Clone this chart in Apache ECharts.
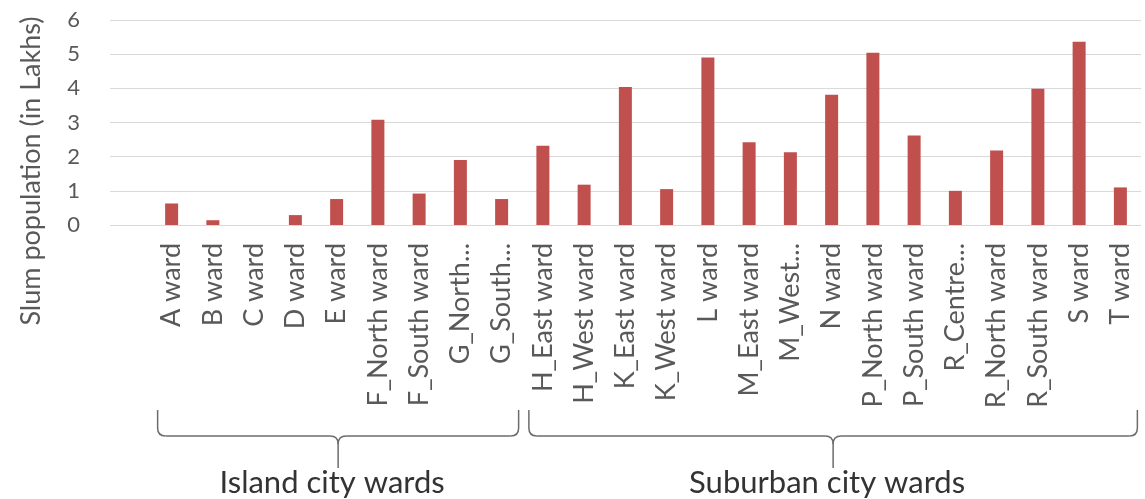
<!DOCTYPE html>
<html>
<head>
<meta charset="utf-8">
<script src="https://cdn.jsdelivr.net/npm/echarts@6/dist/echarts.min.js"></script>
<style>
  html, body { margin: 0; padding: 0; background: #fff; }
  #container { width: 1145px; height: 499px; }
</style>
</head>
<body>
<div id="container"></div>
<script>
// ward names, as the labels show them (Excel cut the long ones)
var wards = ['A ward', 'B ward', 'C ward', 'D ward', 'E ward', 'F_North ward', 'F_South ward', 'G_North...', 'G_South...',
    'H_East ward', 'H_West ward', 'K_East ward', 'K_West ward', 'L ward', 'M_East ward', 'M_West...', 'N ward',
    'P_North ward', 'P_South ward', 'R_Centre...', 'R_North ward', 'R_South ward', 'S ward', 'T ward'];
// slum population in lakhs
var slumPop = [0.63, 0.14, 0, 0.29, 0.76, 3.08, 0.92, 1.9, 0.76,
    2.32, 1.18, 4.04, 1.05, 4.9, 2.42, 2.13, 3.81,
    5.04, 2.62, 1.0, 2.18, 3.99, 5.36, 1.1];
var yTicks = [0, 1, 2, 3, 4, 5, 6];
var yTitle = 'Slum population (in Lakhs)';
// groups shown by the braces under the axis
var groups = [
    { name: 'Island city wards', from: 'A ward', to: 'G_South...' },
    { name: 'Suburban city wards', from: 'H_East ward', to: 'T ward' }
];

var font = 'Lato, "Open Sans", sans-serif';
var dom = document.getElementById('container');
var myChart = echarts.init(dom);

var option = {
    animation: false,
    grid: [
        { left: 110, right: 4, top: 20, bottom: 274 },   // gridlines only
        { left: 151, right: 4, top: 20, bottom: 274 }    // the bars
    ],
    xAxis: [
        { type: 'category', gridIndex: 0, show: false, data: [''] },
        {
            type: 'category',
            gridIndex: 1,
            data: wards,
            axisLine: { show: false },
            axisTick: { show: false },
            axisLabel: {
                interval: 0,
                rotate: 90,
                margin: 18,
                fontFamily: font,
                fontSize: 27,
                color: '#595959'
            }
        }
    ],
    yAxis: [
        {
            type: 'value',
            gridIndex: 0,
            min: yTicks[0],
            max: yTicks[yTicks.length - 1],
            interval: 1,
            axisLine: { show: false },
            axisTick: { show: false },
            axisLabel: { margin: 30, fontFamily: font, fontSize: 22, color: '#595959' },
            splitLine: { lineStyle: { color: '#d9d9d9', width: 1 } }
        },
        {
            type: 'value',
            gridIndex: 1,
            min: yTicks[0],
            max: yTicks[yTicks.length - 1],
            interval: 1,
            show: false,
            splitLine: { show: false }
        }
    ],
    series: [
        {
            name: 'Slum population',
            type: 'bar',
            xAxisIndex: 1,
            yAxisIndex: 1,
            barWidth: 13,
            itemStyle: { color: '#c0504d' },
            data: slumPop
        }
    ]
};
myChart.setOption(option);

// axis title and braces under the labels (braces follow the category positions)
var drawExtras = function () {
    var yTop = 410, yLine = 436, yTip = 468, r = 8;
    var line = { stroke: '#6b6b6b', lineWidth: 1.5, fill: null };
    var elems = [{
        type: 'text',
        x: 31,
        y: 171,
        rotation: Math.PI / 2,
        style: {
            text: yTitle,
            align: 'center',
            verticalAlign: 'middle',
            font: '27px ' + font,
            fill: '#595959'
        }
    }];
    groups.forEach(function (g) {
        var x0 = myChart.convertToPixel({ xAxisIndex: 1 }, g.from) - 14;
        var x1 = myChart.convertToPixel({ xAxisIndex: 1 }, g.to) + 17;
        var xm = (x0 + x1) / 2;
        var parts = [
            { type: 'line', shape: { x1: x0, y1: yTop, x2: x0, y2: yLine - r } },
            { type: 'bezierCurve', shape: { x1: x0, y1: yLine - r, x2: x0 + r, y2: yLine, cpx1: x0, cpy1: yLine } },
            { type: 'line', shape: { x1: x0 + r, y1: yLine, x2: xm - r, y2: yLine } },
            { type: 'bezierCurve', shape: { x1: xm - r, y1: yLine, x2: xm, y2: yLine + r, cpx1: xm, cpy1: yLine } },
            { type: 'bezierCurve', shape: { x1: xm + r, y1: yLine, x2: xm, y2: yLine + r, cpx1: xm, cpy1: yLine } },
            { type: 'line', shape: { x1: xm, y1: yLine + r, x2: xm, y2: yTip } },
            { type: 'line', shape: { x1: xm + r, y1: yLine, x2: x1 - r, y2: yLine } },
            { type: 'bezierCurve', shape: { x1: x1 - r, y1: yLine, x2: x1, y2: yLine - r, cpx1: x1, cpy1: yLine } },
            { type: 'line', shape: { x1: x1, y1: yLine - r, x2: x1, y2: yTop } }
        ];
        parts.forEach(function (p) {
            p.style = line;
            elems.push(p);
        });
        elems.push({
            type: 'text',
            x: xm - 6,
            y: 483,
            style: {
                text: g.name,
                align: 'center',
                verticalAlign: 'middle',
                font: '31px ' + font,
                fill: '#333333'
            }
        });
    });
    myChart.setOption({ graphic: elems });
};
drawExtras();
</script>
</body>
</html>
